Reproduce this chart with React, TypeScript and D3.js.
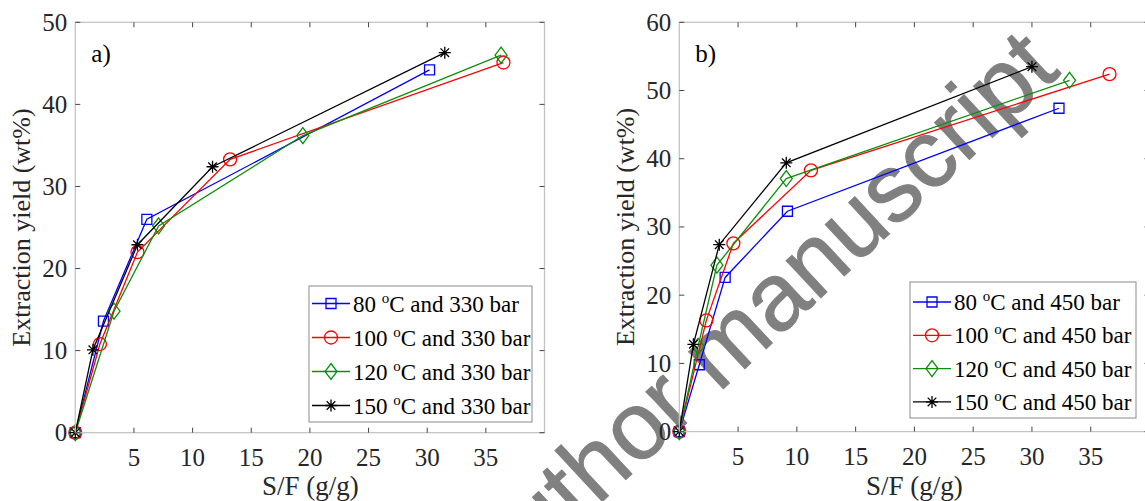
import React from 'react';
import * as d3 from 'd3';

// S/F (g/g) and extraction yield (wt%)
const temps = [80, 100, 120, 150];
const colors = ['#0000ff', '#ff0000', '#0a8f0a', '#000000'];
const markers = ['square', 'circle', 'diamond', 'star'];

// a) 330 bar
const sfA80 = [0, 2.4, 6.1, 30.2];
const yA80 = [0, 13.6, 26.0, 44.2];
const sfA100 = [0, 2.1, 5.3, 13.2, 36.5];
const yA100 = [0, 10.8, 22.0, 33.3, 45.1];
const sfA120 = [0, 3.3, 7.1, 19.4, 36.3];
const yA120 = [0, 14.8, 25.2, 36.2, 46.0];
const sfA150 = [0, 1.5, 5.3, 11.7, 31.5];
const yA150 = [0, 10.1, 22.9, 32.4, 46.3];

// b) 450 bar
const sfB80 = [0, 1.7, 3.9, 9.2, 32.3];
const yB80 = [0, 9.8, 22.6, 32.3, 47.4];
const sfB100 = [0, 2.3, 4.6, 11.2, 36.6];
const yB100 = [0, 16.3, 27.6, 38.3, 52.4];
const sfB120 = [0, 1.6, 3.2, 9.1, 33.2];
const yB120 = [0, 12.5, 24.4, 37.1, 51.5];
const sfB150 = [0, 1.2, 3.4, 9.1, 30.0];
const yB150 = [0, 12.8, 27.4, 39.4, 53.5];

const xTicks = [5, 10, 15, 20, 25, 30, 35];
const yTicksA = [0, 10, 20, 30, 40, 50];
const yTicksB = [0, 10, 20, 30, 40, 50, 60];

const serif = '"Liberation Serif", "Times New Roman", serif';

const zip = (xs: number[], ys: number[]) => xs.map((x, i) => [x, ys[i]] as [number, number]);

function markerPath(kind: string) {
  if (kind === 'square') return 'M-5,-5H5V5H-5Z';
  if (kind === 'circle') return 'M6.5,0A6.5,6.5 0 1,1 -6.5,0A6.5,6.5 0 1,1 6.5,0Z';
  if (kind === 'diamond') return 'M0,-8L6,0L0,8L-6,0Z';
  return 'M-6,0H6M0,-6V6M-4.3,-4.3L4.3,4.3M-4.3,4.3L4.3,-4.3';
}

const Panel = ({ left, right, bottom, top, ymax, yTicks, letter, series, pressure, legend }: any) => {
  const x = d3.scaleLinear().domain([0, 40]).range([left, right]);
  const y = d3.scaleLinear().domain([0, ymax]).range([bottom, top]);
  const line = d3.line<[number, number]>().x(d => x(d[0])).y(d => y(d[1]));
  return (
    <g>
      {/* series */}
      {series.map((pts: [number, number][], i: number) => (
        <g key={i}>
          <path d={line(pts) as string} fill="none" stroke={colors[i]} strokeWidth={1.3} />
          {pts.map((p, j) => (
            <path key={j} d={markerPath(markers[i])} transform={`translate(${x(p[0])},${y(p[1])})`}
              fill="none" stroke={colors[i]} strokeWidth={1.3} />
          ))}
        </g>
      ))}
      {/* box */}
      <rect x={left} y={top} width={right - left} height={bottom - top} fill="none" stroke="#c4c4c4" strokeWidth={1.3} />
      {xTicks.map(t => (
        <g key={t}>
          <line x1={x(t)} x2={x(t)} y1={bottom} y2={bottom - 5} stroke="#444" />
          <line x1={x(t)} x2={x(t)} y1={top} y2={top + 5} stroke="#444" />
          <text x={x(t)} y={bottom + 33} textAnchor="middle" fontFamily={serif} fontSize={25} fill="#262626">{t}</text>
        </g>
      ))}
      {yTicks.map((t: number) => (
        <g key={t}>
          <line x1={left} x2={left + 5} y1={y(t)} y2={y(t)} stroke="#444" />
          <line x1={right} x2={right - 5} y1={y(t)} y2={y(t)} stroke="#444" />
          <text x={left - 8} y={y(t)} dy="0.34em" textAnchor="end" fontFamily={serif} fontSize={25} fill="#262626">{t}</text>
        </g>
      ))}
      <text x={(left + 470 / 2)} y={495} textAnchor="middle" fontFamily={serif} fontSize={27} fill="#262626">S/F (g/g)</text>
      <text transform={`translate(${left - 45},${(top + bottom) / 2}) rotate(-90)`} textAnchor="middle"
        fontFamily={serif} fontSize={26} fill="#262626">Extraction yield (wt%)</text>
      <text x={left + 16} y={62} fontFamily={serif} fontSize={25} fill="#000">{letter}</text>
      {/* legend */}
      <rect x={legend.x} y={legend.y} width={legend.w} height={legend.h} fill="#fff" stroke="#8a8a8a" strokeWidth={1} />
      {temps.map((t, i) => {
        const ry = legend.y + legend.first + i * legend.step;
        const lx = legend.x + 3;
        return (
          <g key={t}>
            <line x1={lx} x2={lx + 38} y1={ry} y2={ry} stroke={colors[i]} strokeWidth={1.3} />
            <path d={markerPath(markers[i])} transform={`translate(${lx + 19},${ry})`} fill="none" stroke={colors[i]} strokeWidth={1.3} />
            <text x={lx + 41} y={ry + 8} fontFamily={serif} fontSize={23} fill="#000">
              {`${t} `}<tspan dy={-9} fontSize={15}>o</tspan><tspan dy={9}>{`C and ${pressure} bar`}</tspan>
            </text>
          </g>
        );
      })}
    </g>
  );
};

export default function App() {
  const seriesA = [zip(sfA80, yA80), zip(sfA100, yA100), zip(sfA120, yA120), zip(sfA150, yA150)];
  const seriesB = [zip(sfB80, yB80), zip(sfB100, yB100), zip(sfB120, yB120), zip(sfB150, yB150)];
  return (
    <svg width={1145} height={501} style={{ position: 'absolute', left: 0, top: 0, background: '#fff' }}>
      <rect width={1145} height={501} fill="#fff" />
      <text transform="translate(500,597) rotate(-43)" fontFamily='"Liberation Sans", Arial, sans-serif'
        fontSize={96} fill="#808080" stroke="#808080" strokeWidth={1}>author manuscript</text>
      <Panel left={75.3} right={544.5} bottom={432.7} top={22.3} ymax={50} yTicks={yTicksA} letter="a)"
        series={seriesA} pressure={330} legend={{ x: 309, y: 286, w: 223, h: 136, first: 17.5, step: 34 }} />
      <Panel left={679.3} right={1149.5} bottom={431.6} top={22.3} ymax={60} yTicks={yTicksB} letter="b)"
        series={seriesB} pressure={450} legend={{ x: 910, y: 282, w: 226, h: 136, first: 20, step: 33.3 }} />
    </svg>
  );
}
